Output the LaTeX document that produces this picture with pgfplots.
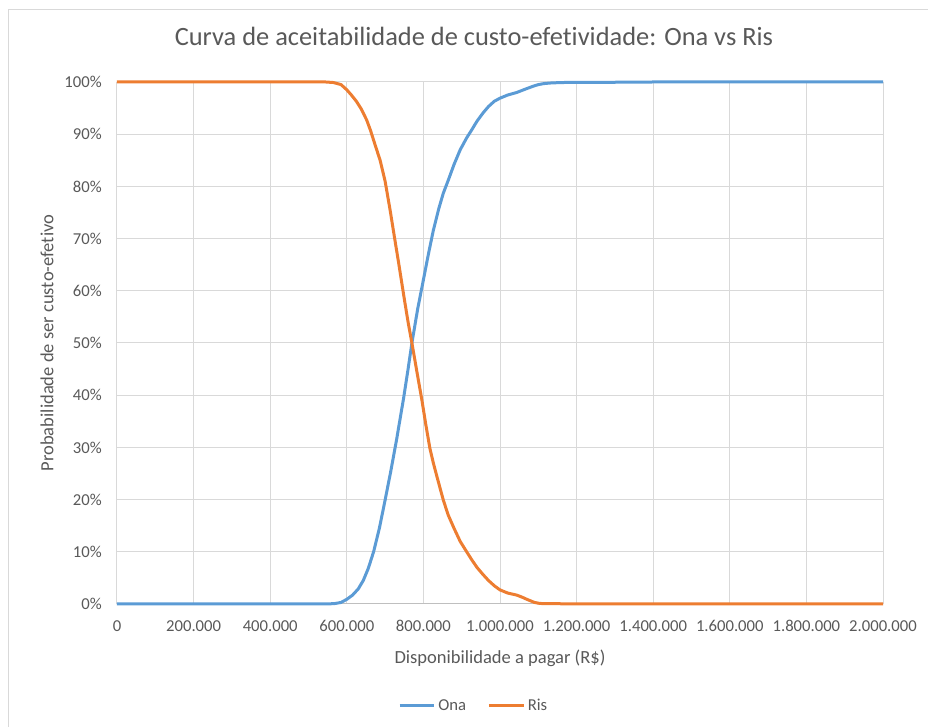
\documentclass[border=0pt]{standalone}
\usepackage{fontspec}
\setmainfont{Carlito}[Ligatures={NoCommon,NoRequired,NoContextual}]
\usepackage{pgfplots}
\pgfplotsset{compat=1.18}

\definecolor{onablue}{HTML}{5B9BD5}
\definecolor{risorange}{HTML}{ED7D31}
\definecolor{gridgray}{HTML}{D9D9D9}
\definecolor{axisgray}{HTML}{BFBFBF}
\definecolor{txtgray}{HTML}{595959}

\begin{document}
\begin{tikzpicture}
% page = 928 x 727 px at 0.75pt per px, axis box at the origin
\useasboundingbox (-87.75pt,-92.25pt) rectangle (608.25pt,453pt);
\draw[gridgray, line width=0.75pt] (-81pt,-92.25pt) -- (-81pt,445.5pt) -- (608.25pt,445.5pt);
\begin{axis}[
    at={(0,0)}, anchor=south west,
    scale only axis,
    width=574.5pt, height=391.5pt,
    xmin=0, xmax=2000000,
    ymin=0, ymax=1,
    clip=false,
    axis x line*=bottom, axis y line*=left,
    x axis line style={axisgray, line width=0.75pt, -},
    y axis line style={draw=none},
    major tick length=0pt,
    grid=major,
    major grid style={gridgray, line width=0.75pt},
    scaled x ticks=false,
    xtick={0,200000,400000,600000,800000,1000000,1200000,1400000,1600000,1800000,2000000},
    xticklabels={0,200.000,400.000,600.000,800.000,1.000.000,1.200.000,1.400.000,1.600.000,1.800.000,2.000.000},
    ytick={0,0.1,0.2,0.3,0.4,0.5,0.6,0.7,0.8,0.9,1},
    yticklabels={0\%,10\%,20\%,30\%,40\%,50\%,60\%,70\%,80\%,90\%,100\%},
    ticklabel style={font=\fontsize{12.5}{15}\selectfont, text=txtgray},
    xticklabel style={anchor=base, inner sep=0pt, yshift=-21pt},
    yticklabel style={anchor=east, inner sep=0pt, xshift=-11.25pt},
    title={Curva de aceitabilidade de custo-efetividade: Ona vs Ris},
    title style={at={(0.466,1.071)}, anchor=center, font=\fontsize{19.8}{23}\selectfont, text=txtgray},
    xlabel={Disponibilidade a pagar (R\$)},
    xlabel style={at={(0.5,-0.105)}, anchor=center, font=\fontsize{13.9}{16}\selectfont, text=txtgray},
    ylabel={Probabilidade de ser custo-efetivo},
    ylabel style={at={(-0.0914,0.5)}, anchor=center, rotate=0, font=\fontsize{13.9}{16}\selectfont, text=txtgray},
    legend columns=2,
    legend style={at={(0.466,-0.195)}, anchor=center, draw=none, fill=none,
        font=\fontsize{12.5}{15}\selectfont, text=txtgray,
        /tikz/every even column/.append style={column sep=14pt}},
    legend image code/.code={\draw[#1, line width=2.25pt] (0pt,0pt) -- (26pt,0pt);},
]
\addplot[onablue, line width=2.25pt, line join=round] coordinates {
    (0,0) (500000,0) (550000,0) (570000,0.001) (585000,0.003) (600000,0.009)
    (615000,0.017) (630000,0.029) (643000,0.045) (656000,0.068) (670000,0.10)
    (685000,0.145) (700000,0.199) (715000,0.255) (730000,0.315) (748000,0.393)
    (760000,0.45) (770000,0.5) (785000,0.565) (800000,0.621) (813000,0.67)
    (826000,0.716) (840000,0.757) (852000,0.787) (865000,0.812) (880000,0.842)
    (896000,0.87) (913000,0.893) (926000,0.908) (940000,0.925) (956000,0.941)
    (970000,0.953) (985000,0.963) (1000000,0.969) (1020000,0.975) (1044000,0.98)
    (1065000,0.986) (1087000,0.992) (1100000,0.995) (1115000,0.997)
    (1130000,0.998) (1160000,0.999) (1300000,0.9995) (1400000,1) (2000000,1)
};
\addlegendentry{Ona}
\addplot[risorange, line width=2.25pt, line join=round] coordinates {
    (0,1) (500000,1) (545000,1) (565000,0.999) (585000,0.995) (600000,0.985)
    (612000,0.975) (625000,0.963) (638000,0.948) (652000,0.927) (662000,0.907)
    (675000,0.877) (687000,0.85) (700000,0.81) (713000,0.755) (725000,0.70)
    (735000,0.655) (750000,0.585) (760000,0.54) (770000,0.5) (783000,0.445)
    (796000,0.391) (806000,0.345) (817000,0.298) (826000,0.27) (835000,0.245)
    (852000,0.199) (865000,0.17) (880000,0.145) (896000,0.12) (913000,0.10)
    (926000,0.085) (940000,0.07) (955000,0.057) (970000,0.045) (985000,0.035)
    (1000000,0.027) (1020000,0.021) (1044000,0.017) (1058000,0.013)
    (1070000,0.009) (1080000,0.006) (1090000,0.003) (1104000,0.001)
    (1150000,0.0005) (1300000,0) (2000000,0)
};
\addlegendentry{Ris}
\end{axis}
\end{tikzpicture}
\end{document}
